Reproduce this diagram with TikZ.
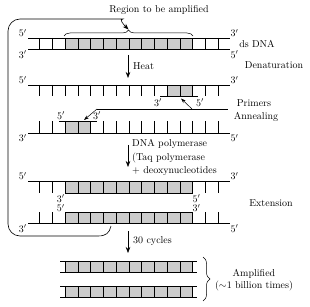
\documentclass[tikz,border=0pt]{standalone}
\usetikzlibrary{arrows.meta,decorations.pathreplacing}
\begin{document}
\begin{tikzpicture}[x=1pt,y=-1pt,
  strand/.style={line width=0.6pt},
  tck/.style={line width=0.5pt},
  cellfill/.style={fill=black!20},
  pr/.style={inner sep=1pt},
  txt/.style={inner sep=1pt},
  arr/.style={-{Stealth[length=6pt,width=4.5pt]}, line width=0.6pt},
  brc/.style={decorate, decoration={brace, amplitude=6pt}, line width=0.5pt}]
\useasboundingbox (0,0) rectangle (310,307);

% ---------- Row 1: ds DNA ----------
\fill[cellfill] (65,38) rectangle (192.5,49.5);
\foreach \k in {0,...,14} \draw[tck] ({39.5+12.75*\k},38) -- ({39.5+12.75*\k},49.5);
\coordinate (r1tl) at (28,38);   \coordinate (r1tr) at (229.5,38);
\coordinate (r1bl) at (28,49.5); \coordinate (r1br) at (229.5,49.5);
\draw[strand] (r1tl) -- (r1tr);
\draw[strand] (r1bl) -- (r1br);
\node[pr, anchor=south east] (l1a) at (r1tl) {$5'$};
\node[pr, anchor=north east] (l1b) at (r1bl) {$3'$};
\node[pr, anchor=south west] (l1c) at (r1tr) {$3'$};
\node[pr, anchor=north west] (l1d) at (r1br) {$5'$};
\node[txt] (dsdna) at (257,44) {ds DNA};

% brace and title
\coordinate (bL) at (64,36); \coordinate (bR) at (193,36);
\draw[brc] (bL) -- (bR);
\coordinate (btip) at (128.5,29.5);
\node[txt] (region) at (159,10) {Region to be amplified};

% ---------- Heat arrow ----------
\coordinate (h1) at (128,55); \coordinate (h2) at (128,78);
\draw[arr] (h1) -- (h2);
\node[txt, anchor=west] (heat) at (132,66) {Heat};
\node[txt] (denat) at (274,65) {Denaturation};

% ---------- Row 2: top strand + primer ----------
\fill[cellfill] (167,85) rectangle (192.5,96.5);
\foreach \k in {0,...,14} \draw[tck] ({39.5+12.75*\k},85) -- ({39.5+12.75*\k},96.5);
\coordinate (r2l) at (28,85); \coordinate (r2r) at (229.5,85);
\draw[strand] (r2l) -- (r2r);
\coordinate (p2l) at (160,96.5); \coordinate (p2r) at (198,96.5);
\draw[strand] (p2l) -- (p2r);
\node[pr, anchor=south east] (l2a) at (r2l) {$5'$};
\node[pr, anchor=south west] (l2b) at (r2r) {$3'$};
\node[pr, anchor=north] (l2c) at (158,97.5) {$3'$};
\node[pr, anchor=north] (l2d) at (200,97.5) {$5'$};

% ---------- Row 3: bottom strand + primer ----------
\fill[cellfill] (65,121.5) rectangle (90.5,133);
\foreach \k in {0,...,14} \draw[tck] ({39.5+12.75*\k},121.5) -- ({39.5+12.75*\k},133);
\coordinate (r3l) at (28,133); \coordinate (r3r) at (229.5,133);
\draw[strand] (r3l) -- (r3r);
\coordinate (p3l) at (59,121.5); \coordinate (p3r) at (97,121.5);
\draw[strand] (p3l) -- (p3r);
\node[pr, anchor=north east] (l3a) at (r3l) {$3'$};
\node[pr, anchor=north west] (l3b) at (r3r) {$5'$};
\node[pr, anchor=south] (l3c) at (61,120.5) {$5'$};
\node[pr, anchor=south] (l3d) at (97,120.5) {$3'$};

% primers pointer
\node[txt] (primers) at (254,103) {Primers};
\node[txt] (anneal) at (256,117) {Annealing};
\coordinate (pj) at (97,109); \coordinate (pe) at (228,109);
\coordinate (pm) at (192,109);
\coordinate (pt2) at (181,98.5); \coordinate (pt3) at (84,120);
\draw[line width=0.5pt] (pj) -- (pe);
\draw[arr, -{Stealth[length=5pt,width=3.5pt]}, line width=0.5pt] (pm) -- (pt2);
\draw[arr, -{Stealth[length=5pt,width=3.5pt]}, line width=0.5pt] (pj) -- (pt3);

% ---------- polymerase arrow ----------
\coordinate (d1) at (128,145); \coordinate (d2) at (128,167);
\draw[arr] (d1) -- (d2);
\node[txt, anchor=north west, align=left, font=\fontsize{10}{13.5}\selectfont] (poly) at (131,138.5)
  {DNA polymerase\\(Taq polymerase\\+ deoxynucleotides};

% ---------- Row 4: extension ----------
\fill[cellfill] (65,181) rectangle (192.5,193);
\foreach \k in {0,...,14} \draw[tck] ({39.5+12.75*\k},181) -- ({39.5+12.75*\k},193);
\coordinate (r4al) at (28,181); \coordinate (r4ar) at (229.5,181);
\draw[strand] (r4al) -- (r4ar);
\coordinate (n4al) at (65,193); \coordinate (n4ar) at (192.5,193);
\draw[strand] (n4al) -- (n4ar);

\fill[cellfill] (65,212) rectangle (192.5,223.5);
\foreach \k in {0,...,14} \draw[tck] ({39.5+12.75*\k},212) -- ({39.5+12.75*\k},223.5);
\coordinate (n4bl) at (65,212); \coordinate (n4br) at (192.5,212);
\draw[strand] (n4bl) -- (n4br);
\coordinate (r4bl) at (28,223.5); \coordinate (r4br) at (229.5,223.5);
\draw[strand] (r4bl) -- (r4br);

\node[pr, anchor=south east] (l4a) at (r4al) {$5'$};
\node[pr, anchor=south west] (l4b) at (r4ar) {$3'$};
\node[pr, anchor=north east] (l4c) at (r4bl) {$3'$};
\node[pr, anchor=north west] (l4d) at (r4br) {$5'$};
\node[pr, anchor=east] (l4e) at (66,198.5) {$3'$};
\node[pr, anchor=east] (l4f) at (66,208) {$5'$};
\node[pr, anchor=west] (l4g) at (191.5,198.5) {$5'$};
\node[pr, anchor=west] (l4h) at (191.5,208) {$3'$};
\node[txt] (ext) at (271,203) {Extension};

% ---------- big loop back to region ----------
\coordinate (lp0) at (111,226);
\draw[arr] (lp0) .. controls (109.5,233) and (106,236) .. (98,236)
  [rounded corners=12pt] -- (8,236) -- (8,19) -- (111,19)
  [sharp corners] to[out=0,in=135] (btip);

% ---------- 30 cycles ----------
\coordinate (c1) at (128,231); \coordinate (c2) at (128,253);
\draw[arr] (c1) -- (c2);
\node[txt, anchor=west] (cyc) at (132,241) {30 cycles};

% ---------- Row 5: amplified ----------
\foreach \yt/\yb in {261/272, 286/297} {
  \fill[cellfill] (65,\yt) rectangle (192.5,\yb);
  \foreach \k in {2,...,12} \draw[tck] ({39.5+12.75*\k},\yt) -- ({39.5+12.75*\k},\yb);
  \draw[strand] (60,\yt) -- (197,\yt);
  \draw[strand] (60,\yb) -- (197,\yb);
}
\coordinate (aT) at (203,257); \coordinate (aB) at (203,301);
\draw[brc, decoration={brace, amplitude=7pt}] (aT) -- (aB);
\node[txt, align=center] (ampl) at (254,280) {Amplified\\($\sim$1 billion times)};
\end{tikzpicture}
\end{document}
